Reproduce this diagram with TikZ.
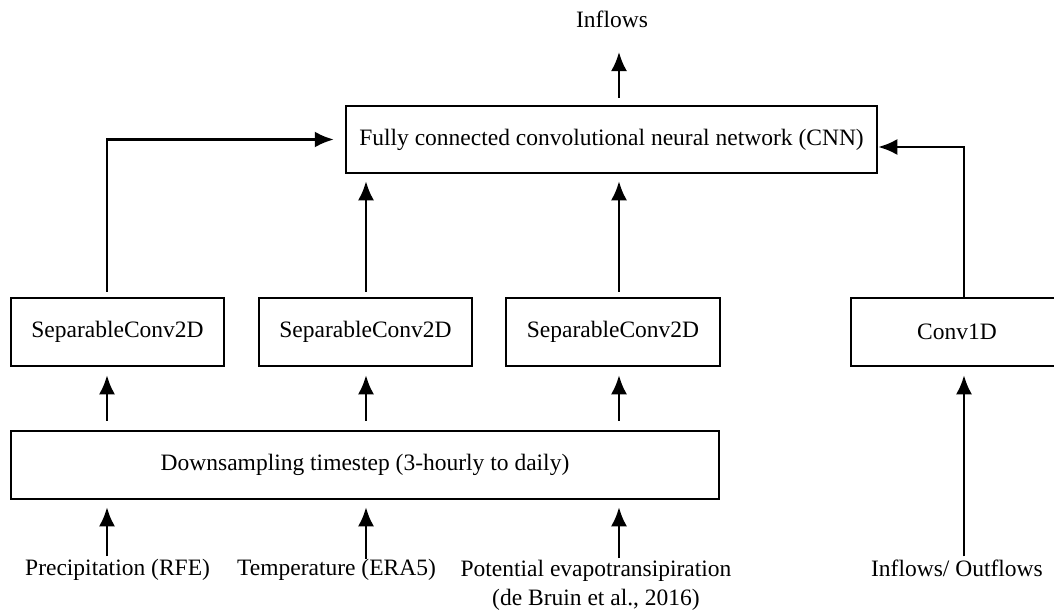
\documentclass[tikz,border=0pt]{standalone}
\usepackage{fontspec}
\setmainfont{Liberation Serif}
\usetikzlibrary{arrows.meta,calc}
\begin{document}
\begin{tikzpicture}[x=1pt,y=-1pt,
  box/.style={draw,line width=2.5pt,minimum height=68pt,inner sep=0pt,font=\fontsize{23.5}{29}\selectfont},
  lbl/.style={inner sep=0pt,font=\fontsize{23.5}{29}\selectfont,align=center},
  arr/.style={line width=2.6pt,-{Latex[length=19pt,width=16pt]}}]
\useasboundingbox (0,0) rectangle (1054,613);
% column positions
\coordinate (x1) at (107,0);
\coordinate (x2) at (366,0);
\coordinate (x3) at (619,0);
\coordinate (x4) at (964,0);
% boxes
\node[box,minimum width=531pt,minimum height=67pt] (cnn) at (611.5,139.5) {Fully connected convolutional neural network (CNN)};
\node[box,minimum width=213pt] (s1) at (117.5,332) {SeparableConv2D};
\node[box,minimum width=213pt] (s2) at (365.5,332) {SeparableConv2D};
\node[box,minimum width=214pt] (s3) at (613,332) {SeparableConv2D};
\node[box,minimum width=212pt] (c1) at (957,332) {Conv1D};
\node[box,minimum width=708pt] (dn) at (365,465) {Downsampling timestep (3-hourly to daily)};
% labels
\node[lbl] (out) at (612,19) {Inflows};
\coordinate (otip) at (619,52);
\node[lbl,anchor=west] (pr) at (25,570) {Precipitation (RFE)};
\node[lbl,anchor=west] (te) at (237,570) {Temperature (ERA5)};
\node[lbl] (pe) at (596,585.5) {Potential evapotransipiration\\(de Bruin et al., 2016)};
\node[lbl,anchor=east] (io) at (1043,568) {Inflows/ Outflows};
% connectors
\draw[arr] ($(x3|-cnn.north)+(0,-7)$) -- (otip);
\draw[arr] ($(x1|-s1.north)+(0,-5)$) |- ($(cnn.west)+(-11,0)$);
\draw[arr] ($(x2|-s2.north)+(0,-5)$) -- ($(x2|-cnn.south)+(0,7)$);
\draw[arr] ($(x3|-s3.north)+(0,-5)$) -- ($(x3|-cnn.south)+(0,7)$);
\draw[arr] (x4|-c1.north) |- ($(cnn.east)+(0,7.5)$);
\draw[arr] ($(x1|-dn.north)+(0,-9)$) -- ($(x1|-s1.south)+(0,8)$);
\draw[arr] ($(x2|-dn.north)+(0,-9)$) -- ($(x2|-s2.south)+(0,8)$);
\draw[arr] ($(x3|-dn.north)+(0,-9)$) -- ($(x3|-s3.south)+(0,8)$);
\draw[arr] ($(x1|-pr.north)+(0,-3)$) -- ($(x1|-dn.south)+(0,7)$);
\draw[arr] (x2|-te.north) -- ($(x2|-dn.south)+(0,7)$);
\draw[arr] ($(x3|-pe.north)+(0,-2)$) -- ($(x3|-dn.south)+(0,7)$);
\draw[arr] ($(x4|-io.north)+(0,-3)$) -- ($(x4|-c1.south)+(0,8)$);
\end{tikzpicture}
\end{document}
